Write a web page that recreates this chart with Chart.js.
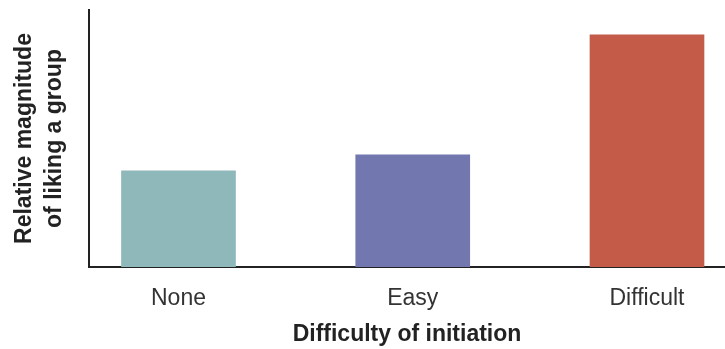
<!DOCTYPE html>
<html>
<head>
<meta charset="utf-8">
<script src="https://cdn.jsdelivr.net/npm/chart.js@4/dist/chart.umd.min.js"></script>
<style>
  html, body { margin: 0; padding: 0; background: #fff; }
  #wrap { width: 725px; height: 349px; }
</style>
</head>
<body>
<div id="wrap"><canvas id="chart" width="725" height="349"></canvas></div>
<script>
// Dados do gráfico
const categories = ['None', 'Easy', 'Difficult'];
const liking = [37.4, 43.6, 90.3];
const barColors = ['#8fb8ba', '#7377b0', '#c45a48'];

const fontFamily = '"Liberation Sans", Arial, sans-serif';

const ctx = document.getElementById('chart').getContext('2d');
new Chart(ctx, {
  type: 'bar',
  data: {
    datasets: [{
      data: liking.map((v, i) => ({ x: i, y: v })),
      backgroundColor: barColors,
      borderWidth: 0,
      barThickness: 114
    }]
  },
  options: {
    responsive: false,
    animation: false,
    layout: { padding: { top: 10, right: 0, left: 0, bottom: 0 } },
    plugins: { legend: { display: false }, tooltip: { enabled: false } },
    scales: {
      x: {
        type: 'linear',
        offset: false,
        min: -0.382,
        max: 2.333,
        grid: { display: false, drawTicks: false, offset: false },
        border: { display: true, color: '#222', width: 2 },
        afterBuildTicks: (scale) => {
          scale.ticks = categories.map((c, i) => ({ value: i }));
        },
        afterFit: (scale) => { scale.height = 82; },
        ticks: {
          padding: 18,
          color: '#333',
          font: { family: fontFamily, size: 23 },
          callback: (v) => categories[v]
        },
        title: {
          display: true,
          text: 'Difficulty of initiation',
          color: '#222',
          padding: { top: 0, bottom: 1 },
          font: { family: fontFamily, size: 23, weight: 'bold' }
        }
      },
      y: {
        min: 0,
        max: 100,
        grid: { display: false, drawTicks: false },
        border: { display: true, color: '#222', width: 2 },
        ticks: { display: false },
        afterFit: (scale) => { scale.width = 89; },
        title: {
          display: true,
          text: ['Relative magnitude', 'of liking a group'],
          color: '#222',
          padding: { top: 10, bottom: 0 },
          font: { family: fontFamily, size: 23, weight: 'bold', lineHeight: 1.3 }
        }
      }
    }
  }
});
</script>
</body>
</html>
